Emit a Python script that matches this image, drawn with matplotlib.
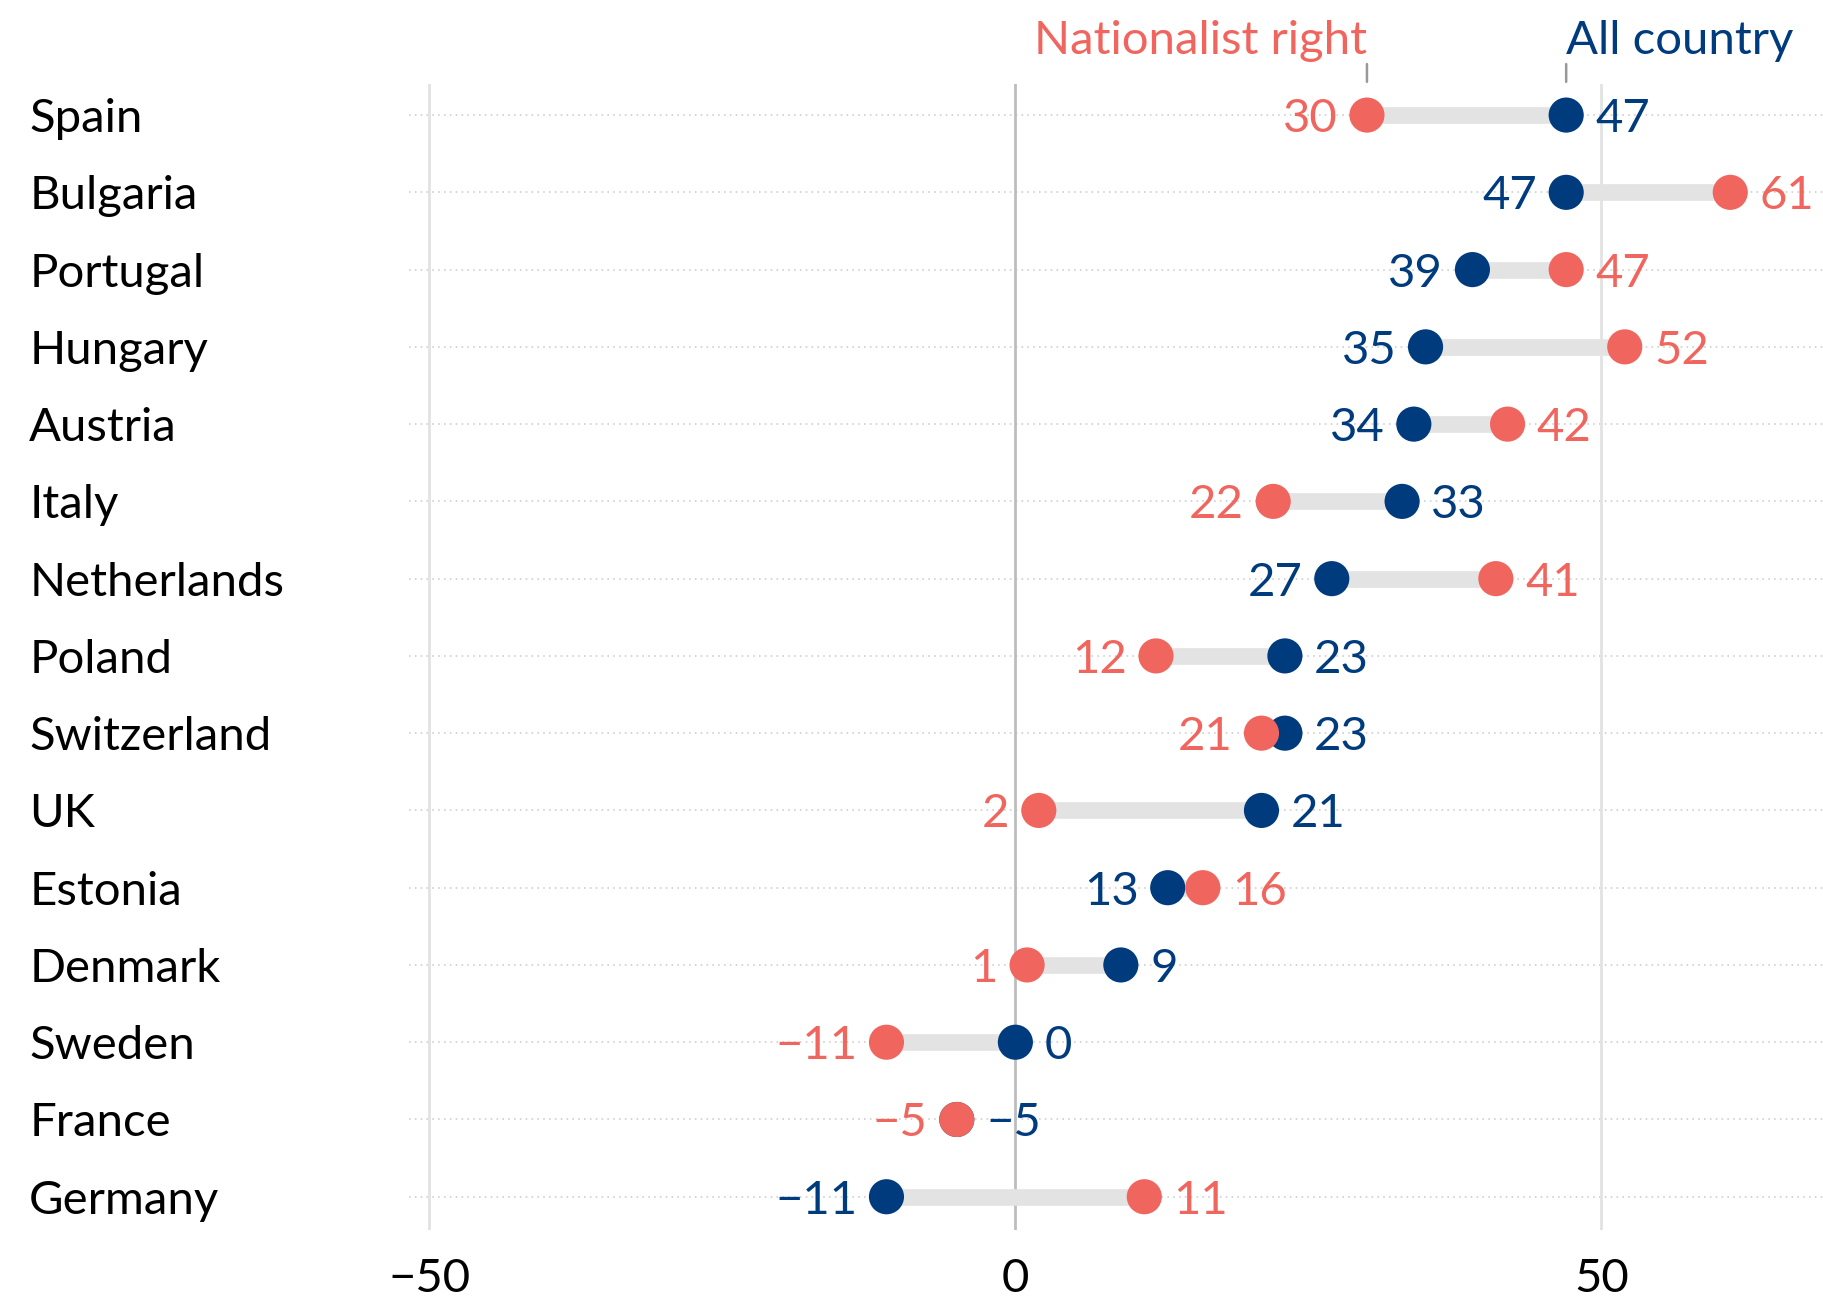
import numpy as np
import matplotlib.pyplot as plt

plt.rcParams['font.family'] = ['Lato', 'DejaVu Sans']

# data
countries = ["Spain", "Bulgaria", "Portugal", "Hungary", "Austria", "Italy",
             "Netherlands", "Poland", "Switzerland", "UK", "Estonia",
             "Denmark", "Sweden", "France", "Germany"]
nationalist = [30, 61, 47, 52, 42, 22, 41, 12, 21, 2, 16, 1, -11, -5, 11]
all_country = [47, 47, 39, 35, 34, 33, 27, 23, 23, 21, 13, 9, 0, -5, -11]
xticks = [-50, 0, 50]

red = "#F0665F"
blue = "#003B7E"

fig = plt.figure(figsize=(18.24, 13.05), dpi=100)
ax = fig.add_axes([0.2245, 0.0575, 0.7755, 0.878])
ax.set_xlim(-51.7, 69)
ax.set_ylim(len(countries) - 1 + 0.43, -0.4)

y = np.arange(len(countries))

# grid
for yy in y:
    ax.axhline(yy, color="#d0d0d0", lw=1.2, ls=(0, (1, 2.5)), zorder=0)
for xt in xticks:
    ax.axvline(xt, color="#bdbdbd" if xt == 0 else "#e2e2e2", lw=2, zorder=1)

# connectors and dots
for yy, n, a in zip(y, nationalist, all_country):
    ax.plot([n, a], [yy, yy], color="#e3e3e3", lw=12, solid_capstyle="butt", zorder=2)
ax.scatter(all_country, y, s=640, color=blue, zorder=3, edgecolors="none")
ax.scatter(nationalist, y, s=640, color=red, zorder=4, edgecolors="none")

# value labels
fs = 34
for yy, n, a in zip(y, nationalist, all_country):
    if n <= a:
        left, lc, right, rc = n, red, a, blue
    else:
        left, lc, right, rc = a, blue, n, red
    ax.annotate(f"{left}".replace("-", "\u2212"), (left, yy), xytext=(-21, 0),
                textcoords="offset points", ha="right", va="center_baseline",
                color=lc, fontsize=fs)
    ax.annotate(f"{right}".replace("-", "\u2212"), (right, yy), xytext=(21, 0),
                textcoords="offset points", ha="left", va="center_baseline",
                color=rc, fontsize=fs)

# country labels
for yy, c in zip(y, countries):
    ax.annotate(c, (0.016, yy), xycoords=("figure fraction", "data"),
                ha="left", va="center_baseline", fontsize=fs, color="black")

# x tick labels
ax.set_xticks(xticks)
ax.set_xticklabels([str(t).replace("-", "\u2212") for t in xticks], fontsize=fs)
ax.tick_params(axis="x", length=0, pad=20)
ax.set_yticks([])
for s in ax.spines.values():
    s.set_visible(False)

# legend labels above Spain
ax.annotate("Nationalist right", (nationalist[0], 0), xytext=(0, 44),
            textcoords="offset points", ha="right", va="baseline",
            fontsize=fs, color=red, annotation_clip=False)
ax.annotate("All country", (all_country[0], 0), xytext=(0, 44),
            textcoords="offset points", ha="left", va="baseline",
            fontsize=fs, color=blue, annotation_clip=False)
for v in (nationalist[0], all_country[0]):
    ax.annotate("", (v, -0.43), xytext=(v, -0.66), xycoords="data",
                arrowprops=dict(arrowstyle="-", color="#999999", lw=1.8,
                                shrinkA=0, shrinkB=0),
                annotation_clip=False)

fig.savefig("out.png", dpi=100)
